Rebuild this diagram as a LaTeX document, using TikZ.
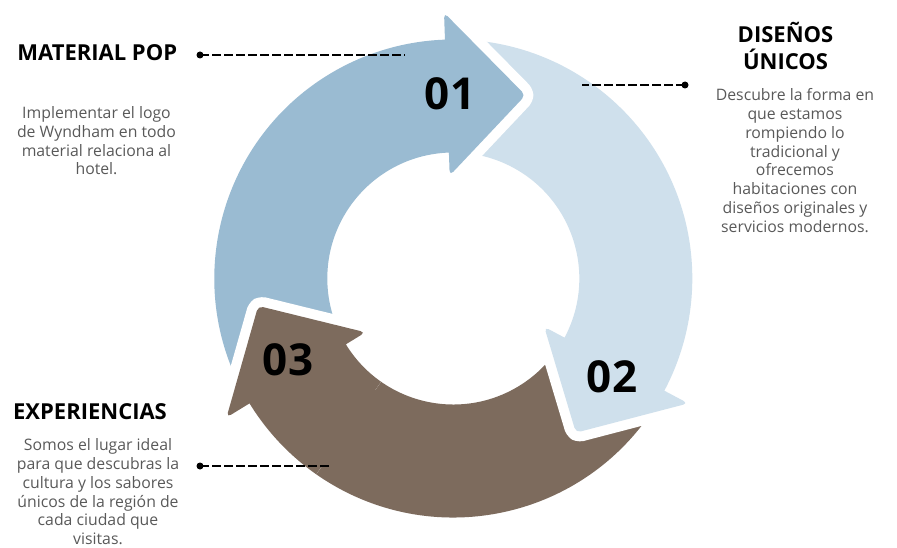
\documentclass[tikz,border=0pt]{standalone}
\usepackage{fontspec}
\setmainfont{Open Sans}
\definecolor{blueA}{HTML}{9ABBD2}
\definecolor{blueB}{HTML}{CFE0EC}
\definecolor{brownC}{HTML}{7D6B5D}
\definecolor{txtgray}{HTML}{595959}
\newcommand\cyclearrowpath[3]{%
  (#1:239) arc[start angle=#1, end angle=#2, radius=239]
  [rounded corners=5] -- (#2:266) -- (#3:197) -- (#2:103) [sharp corners] -- (#2:126)
  arc[start angle=#2, end angle=#1, radius=126] -- cycle}
\newcommand\cyclearrow[4]{%
  \draw[white, line width=20, line join=round] \cyclearrowpath{#1}{#2}{#3};
  \fill[#4] \cyclearrowpath{#1}{#2}{#3};}
\tikzset{
  headtxt/.style={font=\fontsize{22}{27}\selectfont\bfseries, text=black, align=center, inner sep=0},
  bodytxt/.style={font=\fontsize{15.8}{18.8}\selectfont, text=txtgray, align=center, inner sep=0},
  numtxt/.style={font=\fontsize{44}{50}\selectfont\bfseries, text=black, inner sep=0},
  dotend/.style={circle, fill=black, inner sep=0, minimum size=7},
  dashline/.style={black, line width=1.6, dash pattern=on 9 off 3}
}
\begin{document}
\begin{tikzpicture}[x=1pt, y=1pt]
\useasboundingbox (0,0) rectangle (897,547);
\begin{scope}[shift={(453.3,268.5)}]
  \cyclearrow{-31}{-148.5}{-172}{brownC}
  \cyclearrow{89}{-28}{-51.5}{blueB}
  \cyclearrow{208.5}{92}{68.5}{blueA}
  \begin{scope}
    \clip (0,0) -- (-125:400) arc[start angle=-125, end angle=-190, radius=400] -- cycle;
    \cyclearrow{-31}{-148.5}{-172}{brownC}
  \end{scope}
\end{scope}
\node[numtxt] (n1) at (450,453) {01};
\node[numtxt] (n2) at (612,170) {02};
\node[numtxt] (n3) at (288,187) {03};

\node[headtxt, anchor=base] (h1) at (97.3,486.5) {MATERIAL POP};
\node[bodytxt, anchor=north] (b1) at (96.5,440.7) {Implementar el logo\\de Wyndham en todo\\material relaciona al\\hotel.};

\node[headtxt, anchor=north] (h2) at (785.5,525) {DISEÑOS\\ÚNICOS};
\node[bodytxt, anchor=north] (b2) at (795,458.5) {Descubre la forma en\\que estamos\\rompiendo lo\\tradicional y\\ofrecemos\\habitaciones con\\diseños originales y\\servicios modernos.};

\node[headtxt, anchor=base] (h3) at (90,128) {EXPERIENCIAS};
\node[bodytxt, anchor=north] (b3) at (98,108.5) {Somos el lugar ideal\\para que descubras la\\cultura y los sabores\\únicos de la región de\\cada ciudad que\\visitas.};

\node[dotend] (d1) at (200,492) {};
\coordinate (e1) at (405,492);
\draw[dashline] (d1.center) -- (e1);
\node[dotend] (d2) at (685,462) {};
\coordinate (e2) at (582,462);
\draw[dashline] (d2.center) -- (e2);
\node[dotend] (d3) at (200,81) {};
\coordinate (e3) at (330,81);
\draw[dashline] (d3.center) -- (e3);
\end{tikzpicture}
\end{document}
